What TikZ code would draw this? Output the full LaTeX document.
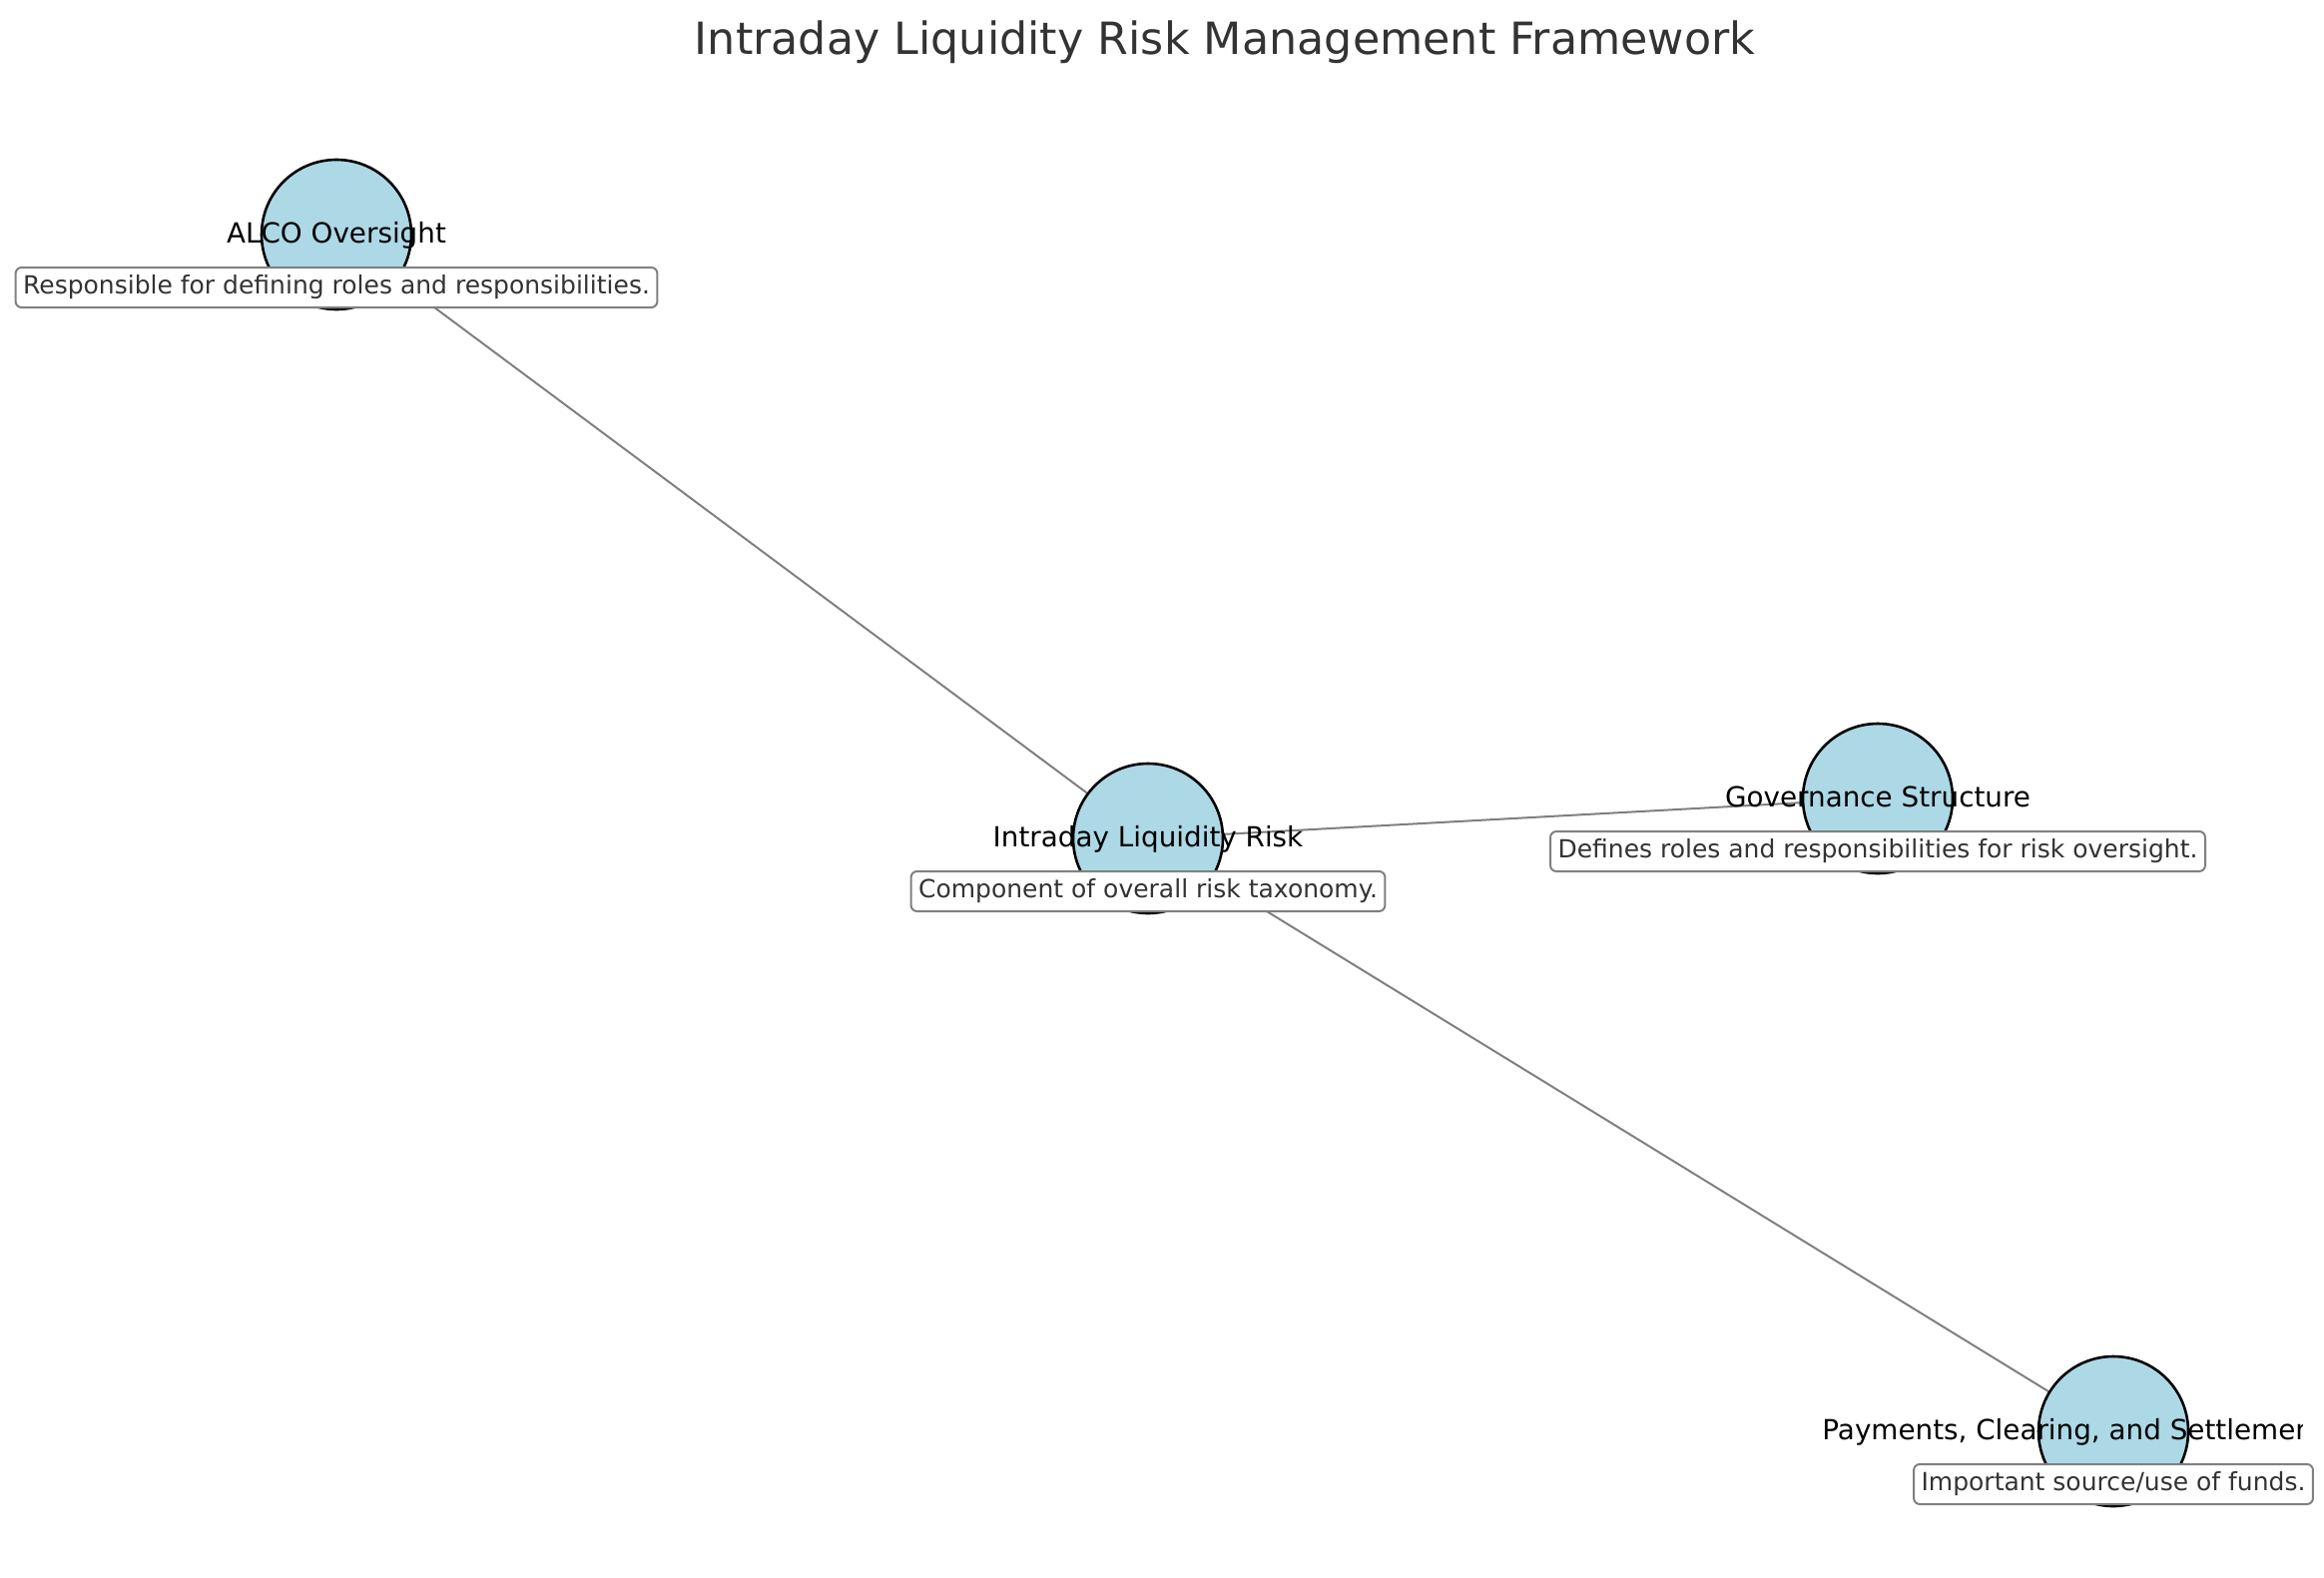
\documentclass[tikz,border=0pt]{standalone}
\usepackage{fontspec}
\setmainfont{DejaVu Sans}
\usepackage{tikz}
\usetikzlibrary{positioning, backgrounds}
\definecolor{nodeblue}{HTML}{ADD8E6}
\definecolor{edgegray}{HTML}{808080}
\definecolor{darkgray}{HTML}{333333}
\tikzset{
  topic/.style={
    circle, minimum size=75pt, inner sep=0pt,
    draw=black, line width=1.3pt, fill=nodeblue,
  },
  topiclabel/.style={
    anchor=base, inner sep=0pt, text=black,
    font=\fontsize{13.9}{16}\selectfont,
  },
  note/.style={
    rectangle, rounded corners=3pt,
    draw=edgegray, line width=1pt, fill=white,
    text=darkgray, font=\fontsize{12.5}{15}\selectfont,
    inner xsep=3.75pt, inner ysep=3.9pt,
    text height=9.5pt, text depth=2.7pt,
  },
  link/.style={draw=edgegray, line width=1pt},
  heading/.style={anchor=base, text=darkgray, font=\fontsize{22.2}{26}\selectfont},
}

\begin{document}
\begin{tikzpicture}[x=0.5pt, y=-0.5pt]

  \useasboundingbox (0,0) rectangle (2328,1580);

  \node[heading] (title) at (1227,54) {Intraday Liquidity Risk Management Framework};

  \node[topic] (alco) at (337,235) {};
  \node[topic] (intraday) at (1150,840) {};
  \node[topic] (gov) at (1881,800) {};
  \node[topic] (pcs) at (2117,1434) {};

  \begin{pgfonlayer}{background}
    \draw[link] (intraday) -- (alco);
    \draw[link] (intraday) -- (gov);
    \draw[link] (intraday) -- (pcs);
  \end{pgfonlayer}

  \node[topiclabel] (alcolabel) at ([yshift=-4pt]alco.center) {ALCO Oversight};
  \node[topiclabel] (intradaylabel) at ([yshift=-4pt]intraday.center) {Intraday Liquidity Risk};
  \node[topiclabel] (govlabel) at ([yshift=-4pt]gov.center) {Governance Structure};
  % label runs past the plot edge, cut as in the original
  \begin{scope}
    \clip (0,0) rectangle (2306,1580);
    \node[topiclabel, anchor=base west] (pcslabel) at ([xshift=-146pt, yshift=-4pt]pcs.center) {Payments, Clearing, and Settlement};
  \end{scope}

  \node[note] (alconote) at ([yshift=-26.5pt]alco.center) {Responsible for defining roles and responsibilities.};
  \node[note] (intradaynote) at ([yshift=-26.5pt]intraday.center) {Component of overall risk taxonomy.};
  \node[note] (govnote) at ([yshift=-26.5pt]gov.center) {Defines roles and responsibilities for risk oversight.};
  \node[note] (pcsnote) at ([yshift=-26.5pt]pcs.center) {Important source/use of funds.};

\end{tikzpicture}
\end{document}
